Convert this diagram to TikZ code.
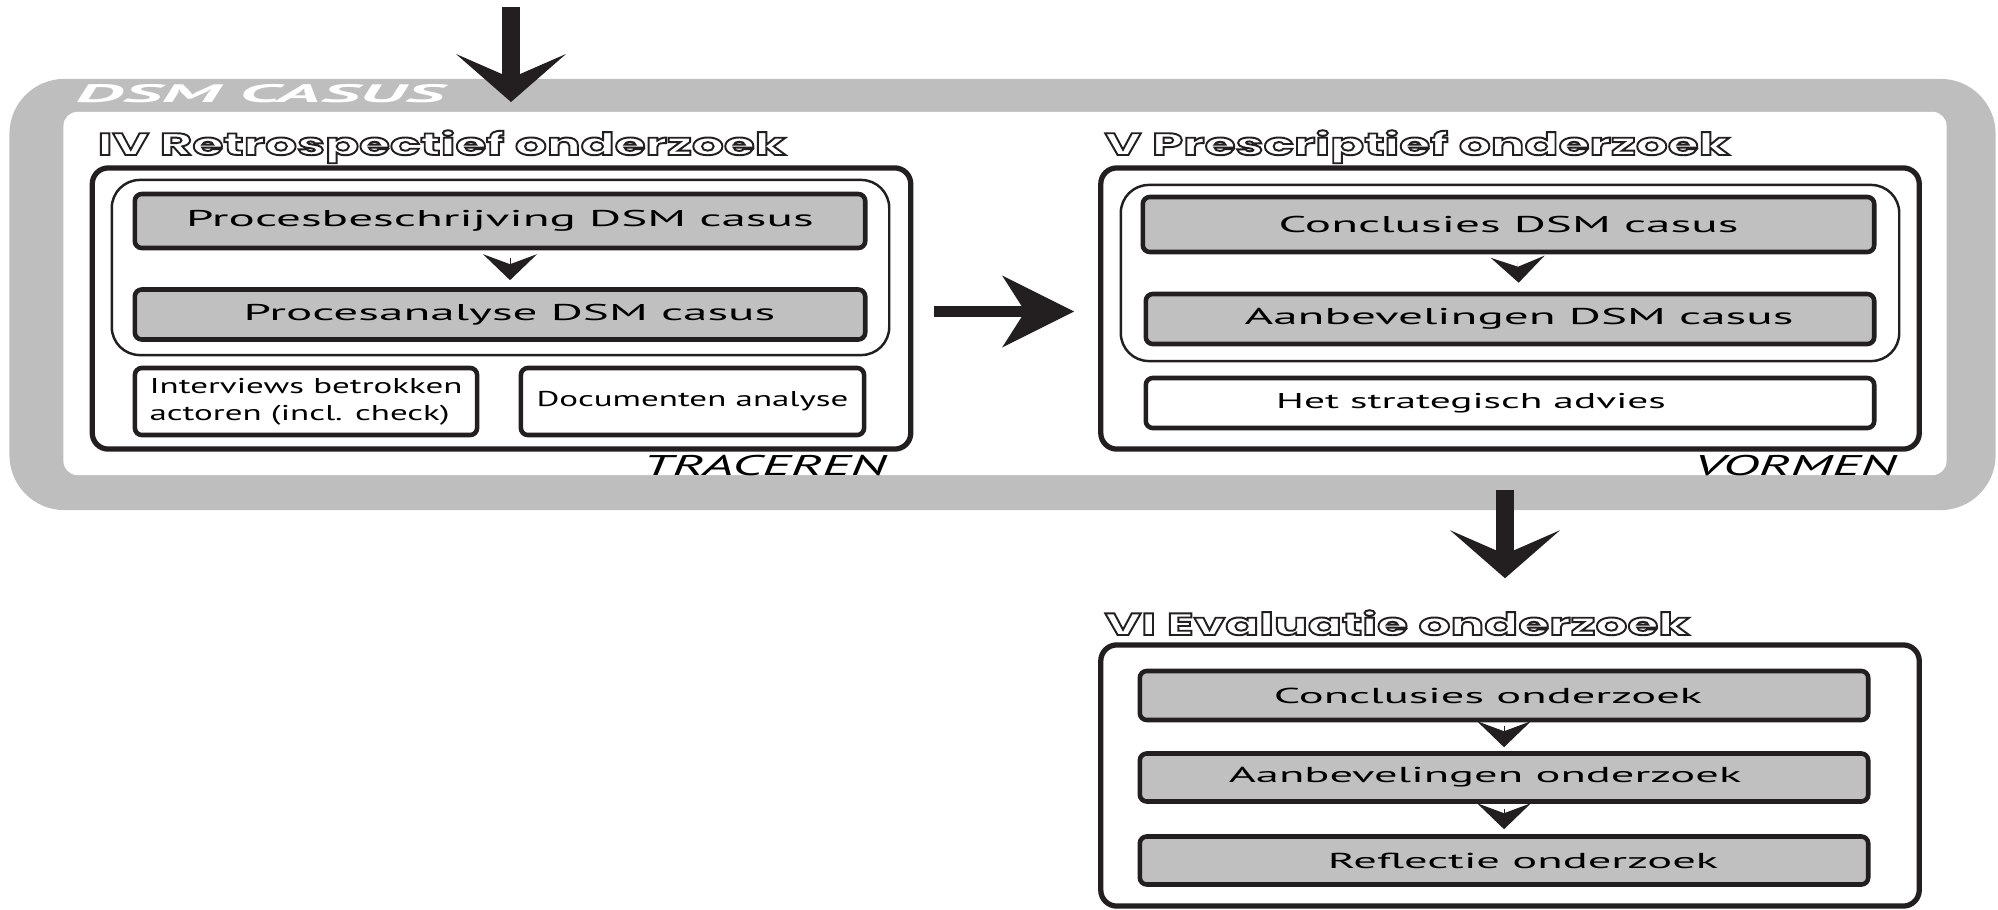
\documentclass[tikz,border=0pt]{standalone}
\usepackage{fontspec}
\setmainfont{PT Sans}
\newfontfamily\boxfont{PT Sans}[FakeStretch=2.15]
\newfontfamily\notefont{PT Sans}[FakeStretch=1.63]
\newfontfamily\advicefont{PT Sans}[FakeStretch=1.93]
\newfontfamily\phasefont{PT Sans}[FakeStretch=1.95]
\newfontfamily\casusfont{PT Sans}[FakeStretch=3.0]
\newfontfamily\headfont{Poppins}[FakeStretch=1.62]
\newcommand\hollow[1]{\special{pdf:literal direct 2 Tr 0.55 w 1 g}#1\special{pdf:literal direct 0 Tr 0 g}}
\usetikzlibrary{arrows.meta}
\definecolor{band}{RGB}{190,190,190}
\definecolor{boxgray}{RGB}{192,192,192}
\definecolor{ink}{RGB}{35,31,32}
\begin{document}
\begin{tikzpicture}[x=0.01cm,y=-0.01cm,
  panel/.style={draw=ink,line width=1.5pt,rounded corners=0.16cm,minimum width=8.18cm,minimum height=2.81cm},
  group/.style={draw=ink,line width=0.7pt,rounded corners=0.28cm},
  graybox/.style={draw=ink,fill=boxgray,line width=1.3pt,rounded corners=0.07cm,minimum width=7.3cm,minimum height=0.5cm,inner sep=0pt,font=\boxfont\fontsize{6.5}{8}\selectfont},
  lowbox/.style={graybox,minimum width=7.28cm,minimum height=0.48cm,font=\boxfont\fontsize{6.15}{8}\selectfont},
  whitebox/.style={draw=ink,fill=white,line width=1.3pt,rounded corners=0.07cm,inner sep=0pt,font=\notefont\fontsize{6.1}{7.7}\selectfont},
  heading/.style={anchor=base west,text=ink,inner sep=0pt,font=\headfont\bfseries\fontsize{8.8}{10}\selectfont},
  phase/.style={anchor=base east,inner sep=0pt,font=\phasefont\itshape\fontsize{8.1}{10}\selectfont},
  bigarrow/.style={draw=ink,line width=5pt,-{Stealth[length=0.48cm,width=1.1cm,inset=0.24cm,line width=0pt]}},
  midarrow/.style={draw=ink,line width=3.2pt,-{Stealth[length=0.72cm,width=0.72cm,inset=0.23cm,line width=0pt]}},
  smallarrow/.style={draw=ink,line width=0.01pt,-{Stealth[length=0.26cm,width=0.54cm,inset=0.1cm,line width=0pt]}}]
\useasboundingbox (0,0) rectangle (1998,909);
\node[fill=band,rounded corners=0.55cm,minimum width=19.85cm,minimum height=4.31cm] (casus) at (1002.5,294.5) {};
\node[fill=white,rounded corners=0.14cm,minimum width=18.82cm,minimum height=3.63cm] (casusin) at (1005,293.5) {};
\node[anchor=base west,inner sep=0pt,text=white,font=\casusfont\bfseries\itshape\fontsize{7.2}{8}\selectfont] (casuslabel) at (75,102) {DSM CASUS};
\node[panel] (iv) at (501.5,308.5) {};
\node[heading] (ivhead) at (97,155) {\hollow{IV Retrospectief onderzoek}};
\node[group,minimum width=7.77cm,minimum height=1.75cm] (ivgroup) at (500.5,267.5) {};
\node[graybox,minimum height=0.54cm] (pb) at (500,221) {Procesbeschrijving DSM casus};
\node[graybox] (pa) at (500,314.5) {\hspace*{0.19cm}Procesanalyse DSM casus};
\node[whitebox,minimum width=3.42cm,minimum height=0.67cm,align=left] (interv) at (306,401.5) {Interviews betrokken\\actoren (incl. check)};
\node[whitebox,minimum width=3.43cm,minimum height=0.67cm] (docs) at (692.5,401.5) {Documenten analyse};
\node[phase] (tracing) at (887,475) {TRACEREN};
\node[panel] (v) at (1510,308.5) {};
\node[heading] (vhead) at (1104,155) {\hollow{V Prescriptief onderzoek}};
\node[group,minimum width=7.78cm,minimum height=1.76cm] (vgroup) at (1510,273) {};
\node[graybox,minimum width=7.31cm,minimum height=0.55cm] (concl) at (1508.5,224.5) {Conclusies DSM casus};
\node[graybox,minimum width=7.28cm] (aanb) at (1510,319) {\hspace*{0.18cm}Aanbevelingen DSM casus};
\node[whitebox,minimum width=7.28cm,minimum height=0.5cm,font=\advicefont\fontsize{6.1}{7.7}\selectfont] (advies) at (1510,403) {Het strategisch advies\hspace*{0.78cm}};
\node[phase] (forming) at (1897,475) {VORMEN};
\node[panel,minimum height=2.61cm] (vi) at (1510,775.5) {};
\node[heading] (vihead) at (1104,635) {\hollow{VI Evaluatie onderzoek}};
\node[lowbox,minimum height=0.49cm] (concond) at (1504,695.5) {Conclusies onderzoek\hspace*{0.32cm}};
\node[lowbox] (aanbond) at (1504,777.5) {Aanbevelingen onderzoek\hspace*{0.38cm}};
\node[lowbox] (reflond) at (1504,860.5) {\hspace*{0.38cm}Reflectie onderzoek};
\coordinate (src) at (511,7);
\coordinate (entry) at (511,102);
\draw[bigarrow] (src) -- (entry);
\draw[midarrow,shorten <=0.21cm,shorten >=0.24cm] ([yshift=-0.03cm]iv.east) -- ([yshift=-0.03cm]v.west);
\draw[bigarrow,shorten <=0.38cm,shorten >=0.64cm] ([xshift=-0.05cm]v.south) -- ([xshift=-0.05cm]vi.north);
\draw[smallarrow,shorten <=0.08cm,shorten >=0.07cm] ([xshift=0.1cm]pb.south) -- ([xshift=0.1cm]pa.north);
\draw[smallarrow,shorten <=0.08cm,shorten >=0.09cm] ([xshift=0.09cm]concl.south) -- ([xshift=0.09cm]aanb.north);
\draw[smallarrow,shorten <=0.04cm,shorten >=0.04cm] (concond.south) -- (aanbond.north);
\draw[smallarrow,shorten <=0.05cm,shorten >=0.05cm] (aanbond.south) -- (reflond.north);
\end{tikzpicture}
\end{document}
